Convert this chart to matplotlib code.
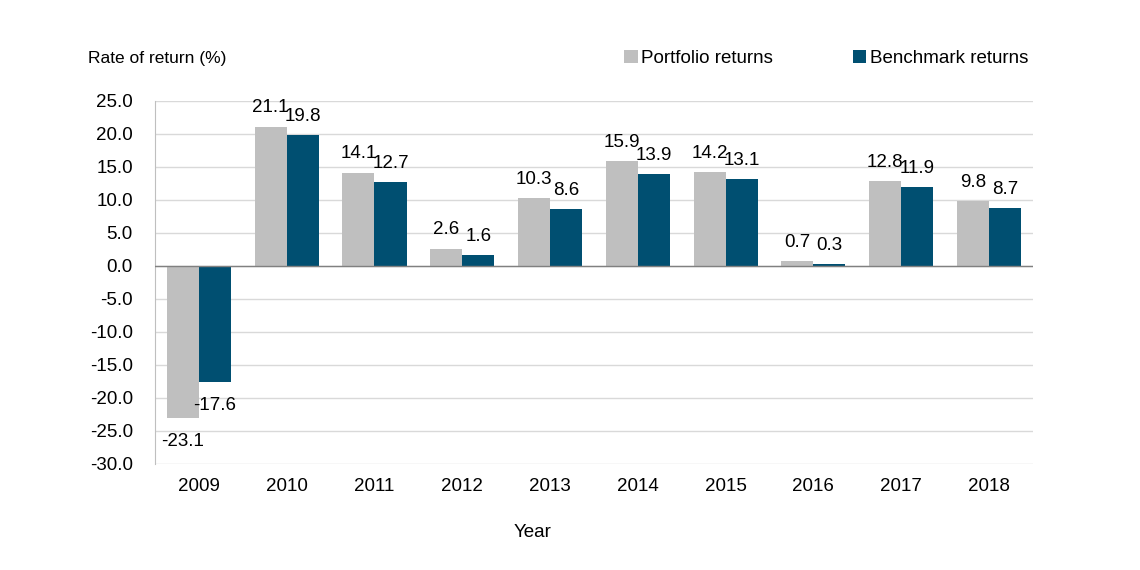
import matplotlib
matplotlib.use("Agg")
import matplotlib.pyplot as plt
import numpy as np

years = ["2009", "2010", "2011", "2012", "2013", "2014", "2015", "2016", "2017", "2018"]
portfolio = [-23.1, 21.1, 14.1, 2.6, 10.3, 15.9, 14.2, 0.7, 12.8, 9.8]
benchmark = [-17.6, 19.8, 12.7, 1.6, 8.6, 13.9, 13.1, 0.3, 11.9, 8.7]
yticks = [25.0, 20.0, 15.0, 10.0, 5.0, 0.0, -5.0, -10.0, -15.0, -20.0, -25.0, -30.0]

plt.rcParams['font.family'] = ['Liberation Sans', 'DejaVu Sans']
GRAY = "#BFBFBF"
BLUE = "#004F71"

fig = plt.figure(figsize=(11.4, 5.7), dpi=100)
ax = fig.add_axes([0.136, 0.186, 0.770, 0.637])

x = np.arange(len(years))
w = 0.365
b1 = ax.bar(x - w / 2, portfolio, w, color=GRAY, label="Portfolio returns", zorder=3)
b2 = ax.bar(x + w / 2, benchmark, w, color=BLUE, label="Benchmark returns", zorder=3)

fs = 13.5
for bars, vals in ((b1, portfolio), (b2, benchmark)):
    for r, v in zip(bars, vals):
        cx = r.get_x() + r.get_width() / 2
        if v >= 0:
            ax.annotate(f"{v:.1f}", (cx, v), xytext=(0, 7.5), textcoords="offset points",
                        ha="center", va="bottom", fontsize=fs, zorder=4)
        else:
            ax.annotate(f"{v:.1f}", (cx, v), xytext=(0, -10.5), textcoords="offset points",
                        ha="center", va="top", fontsize=fs, zorder=4)

ax.set_ylim(-30, 25)
ax.set_xlim(-0.5, len(years) - 0.5)
ax.set_yticks(yticks)
ax.set_yticklabels([f"{t:.1f}" for t in yticks])
ax.set_xticks(x)
ax.set_xticklabels(years)
ax.tick_params(axis="both", length=0, labelsize=fs)
ax.tick_params(axis="y", pad=16)
ax.tick_params(axis="x", pad=10)

ax.yaxis.grid(True, color="#D9D9D9", linewidth=1.0, zorder=0)
ax.set_axisbelow(True)
ax.axhline(0, color="#808080", linewidth=1.0, zorder=4)
for s in ("top", "right", "bottom"):
    ax.spines[s].set_visible(False)
ax.spines["left"].set_color("#BFBFBF")

ax.set_xlabel("Year", fontsize=fs)
ax.xaxis.set_label_coords(0.43, -0.165)
fig.text(0.077, 0.898, "Rate of return (%)", fontsize=12.5, ha="left", va="center")

leg = fig.legend(handles=[b1, b2], loc="center left", bbox_to_anchor=(0.533, 0.898),
                 ncol=2, frameon=False, fontsize=fs, handlelength=0.7, handleheight=0.7,
                 handletextpad=0.2, columnspacing=4.25)

fig.savefig("out.png", dpi=100)
